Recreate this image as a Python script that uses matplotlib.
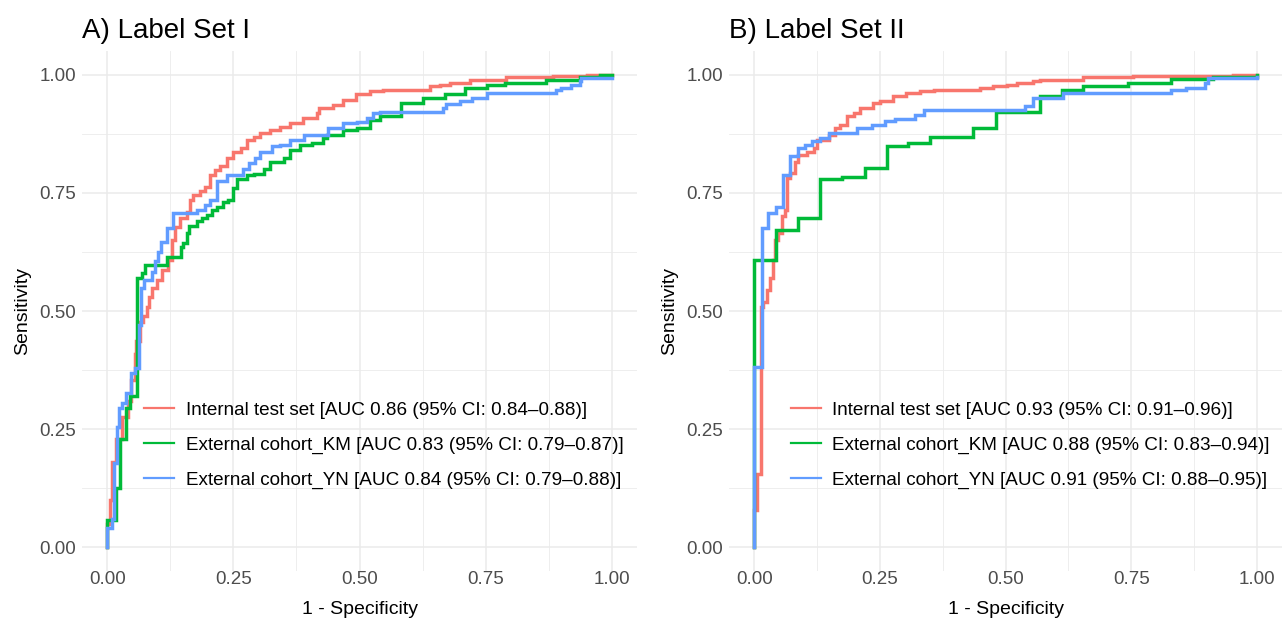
import matplotlib
matplotlib.use("Agg")
import matplotlib.pyplot as plt
from matplotlib.lines import Line2D
import numpy as np

plt.rcParams['font.family'] = ['Liberation Sans', 'DejaVu Sans']

# ---------------- data (step ROC vertices: fpr, tpr) ----------------
# Panel A: Label Set I
a_int_fpr = [0, 0, 0.005, 0.010, 0.018, 0.029, 0.042, 0.047, 0.055, 0.058, 0.065, 0.071, 0.079,
             0.082, 0.088, 0.098, 0.108, 0.121, 0.128, 0.134, 0.145, 0.158, 0.164, 0.170, 0.184,
             0.194, 0.204, 0.213, 0.224, 0.237, 0.250, 0.265, 0.277, 0.290, 0.302, 0.323, 0.343,
             0.362, 0.389, 0.415, 0.420, 0.448, 0.467, 0.494, 0.520, 0.546, 0.640, 0.660, 0.680,
             0.719, 0.790, 0.884, 0.950, 1.0]
a_int_tpr = [0, 0.05, 0.10, 0.18, 0.23, 0.276, 0.31, 0.354, 0.41, 0.437, 0.477, 0.49, 0.509,
             0.53, 0.548, 0.565, 0.587, 0.608, 0.65, 0.678, 0.696, 0.71, 0.735, 0.746, 0.753,
             0.763, 0.788, 0.799, 0.806, 0.824, 0.837, 0.844, 0.862, 0.869, 0.876, 0.883, 0.89,
             0.897, 0.908, 0.919, 0.929, 0.936, 0.947, 0.958, 0.965, 0.968, 0.975, 0.979, 0.982,
             0.989, 0.995, 0.998, 1.0, 1.0]

a_km_fpr = [0, 0, 0.017, 0.026, 0.037, 0.046, 0.059, 0.069, 0.075, 0.118, 0.147, 0.150, 0.158,
            0.162, 0.178, 0.187, 0.197, 0.207, 0.217, 0.230, 0.240, 0.250, 0.257, 0.277, 0.290,
            0.310, 0.323, 0.350, 0.362, 0.382, 0.405, 0.428, 0.435, 0.467, 0.495, 0.520, 0.540,
            0.583, 0.626, 0.670, 0.709, 0.752, 0.788, 0.870, 0.937, 0.976, 1.0]
a_km_tpr = [0, 0.057, 0.125, 0.23, 0.295, 0.32, 0.57, 0.58, 0.597, 0.615, 0.636, 0.644, 0.665,
            0.68, 0.69, 0.697, 0.704, 0.714, 0.72, 0.73, 0.735, 0.76, 0.78, 0.788, 0.79,
            0.80, 0.816, 0.823, 0.84, 0.851, 0.855, 0.866, 0.873, 0.883, 0.888, 0.905, 0.912,
            0.94, 0.95, 0.96, 0.972, 0.979, 0.982, 0.989, 0.996, 1.0, 1.0]

a_yn_fpr = [0, 0, 0.009, 0.0125, 0.019, 0.024, 0.030, 0.037, 0.048, 0.055, 0.062, 0.066, 0.072,
            0.088, 0.095, 0.101, 0.106, 0.118, 0.131, 0.178, 0.194, 0.204, 0.217, 0.237, 0.270,
            0.280, 0.293, 0.302, 0.326, 0.343, 0.362, 0.390, 0.438, 0.467, 0.495, 0.514, 0.527,
            0.540, 0.665, 0.672, 0.699, 0.722, 0.752, 0.890, 0.900, 0.920, 0.937, 0.940, 1.0]
a_yn_tpr = [0, 0.04, 0.06, 0.178, 0.255, 0.295, 0.305, 0.326, 0.368, 0.38, 0.47, 0.548, 0.565,
            0.583, 0.605, 0.625, 0.645, 0.675, 0.707, 0.714, 0.724, 0.735, 0.774, 0.788, 0.80,
            0.813, 0.823, 0.837, 0.848, 0.852, 0.862, 0.873, 0.887, 0.897, 0.90, 0.908, 0.919,
            0.922, 0.93, 0.937, 0.944, 0.95, 0.961, 0.968, 0.972, 0.979, 0.986, 0.993, 0.993]

# Panel B: Label Set II
b_int_fpr = [0, 0, 0.0066, 0.013, 0.017, 0.025, 0.032, 0.038, 0.042, 0.048, 0.055, 0.062, 0.065,
             0.072, 0.0815, 0.088, 0.105, 0.120, 0.125, 0.148, 0.161, 0.171, 0.184, 0.198, 0.211,
             0.237, 0.250, 0.277, 0.303, 0.330, 0.357, 0.449, 0.476, 0.502, 0.522, 0.555, 0.568,
             0.655, 0.754, 0.952, 1.0]
b_int_tpr = [0, 0.08, 0.156, 0.509, 0.52, 0.545, 0.569, 0.608, 0.65, 0.665, 0.70, 0.714, 0.781,
             0.792, 0.816, 0.83, 0.837, 0.844, 0.862, 0.873, 0.887, 0.894, 0.912, 0.919, 0.929,
             0.94, 0.944, 0.954, 0.961, 0.965, 0.968, 0.972, 0.975, 0.979, 0.982, 0.986, 0.989,
             0.994, 0.997, 1.0, 1.0]

b_km_fpr = [0, 0, 0.0437, 0.088, 0.131, 0.174, 0.221, 0.264, 0.307, 0.350, 0.436, 0.482, 0.569,
            0.612, 0.655, 0.744, 0.830, 0.913, 1.0]
b_km_tpr = [0, 0.608, 0.672, 0.696, 0.78, 0.783, 0.802, 0.85, 0.855, 0.869, 0.887, 0.92, 0.954,
            0.967, 0.975, 0.982, 0.991, 0.996, 1.0]

b_yn_fpr = [0, 0, 0.015, 0.0285, 0.044, 0.058, 0.072, 0.088, 0.101, 0.115, 0.131, 0.148, 0.204,
            0.234, 0.260, 0.281, 0.320, 0.337, 0.539, 0.555, 0.614, 0.830, 0.860, 0.897, 0.903, 1.0]
b_yn_tpr = [0, 0.382, 0.675, 0.707, 0.719, 0.788, 0.827, 0.845, 0.852, 0.859, 0.866, 0.876, 0.887,
            0.894, 0.901, 0.906, 0.915, 0.926, 0.933, 0.95, 0.961, 0.968, 0.972, 0.982, 0.993, 0.995]

series_names = ["Internal test set", "External cohort_KM", "External cohort_YN"]
colors = ["#F8766D", "#00BA38", "#619CFF"]
labels_a = ["Internal test set [AUC 0.86 (95% CI: 0.84\u20130.88)]",
            "External cohort_KM [AUC 0.83 (95% CI: 0.79\u20130.87)]",
            "External cohort_YN [AUC 0.84 (95% CI: 0.79\u20130.88)]"]
labels_b = ["Internal test set [AUC 0.93 (95% CI: 0.91\u20130.96)]",
            "External cohort_KM [AUC 0.88 (95% CI: 0.83\u20130.94)]",
            "External cohort_YN [AUC 0.91 (95% CI: 0.88\u20130.95)]"]
titles = ["A) Label Set I", "B) Label Set II"]
ticks = [0.0, 0.25, 0.5, 0.75, 1.0]
tick_labels = ["0.00", "0.25", "0.50", "0.75", "1.00"]

panels = [
    ([(a_int_fpr, a_int_tpr), (a_km_fpr, a_km_tpr), (a_yn_fpr, a_yn_tpr)], labels_a, titles[0]),
    ([(b_int_fpr, b_int_tpr), (b_km_fpr, b_km_tpr), (b_yn_fpr, b_yn_tpr)], labels_b, titles[1]),
]

W, H = 1282, 625
fig = plt.figure(figsize=(W / 100, H / 100), dpi=100)
rects = [[82 / W, 54 / H, 555 / W, 520 / H], [729 / W, 54 / H, 553 / W, 520 / H]]

for rect, (curves, labels, title) in zip(rects, panels):
    ax = fig.add_axes(rect)
    for (fx, ty), c in zip(curves, colors):
        ax.plot(fx, ty, drawstyle="steps-post", color=c, lw=2.5, solid_joinstyle="miter")
    ax.set_xlim(-0.05, 1.05)
    ax.set_ylim(-0.05, 1.05)
    ax.set_xticks(ticks)
    ax.set_xticklabels(tick_labels)
    ax.set_yticks(ticks)
    ax.set_yticklabels(tick_labels)
    ax.set_xticks([0.125, 0.375, 0.625, 0.875], minor=True)
    ax.set_yticks([0.125, 0.375, 0.625, 0.875], minor=True)
    ax.grid(which="major", color="#EBEBEB", lw=1.1)
    ax.grid(which="minor", color="#EBEBEB", lw=0.6)
    ax.set_axisbelow(True)
    for s in ax.spines.values():
        s.set_visible(False)
    ax.tick_params(which="both", length=0, labelsize=13.5, labelcolor="#4D4D4D")
    ax.tick_params(axis="x", pad=0)
    ax.tick_params(axis="y", pad=4)
    ax.set_xlabel("1 - Specificity", fontsize=14, labelpad=9)
    ax.set_ylabel("Sensitivity", fontsize=14, labelpad=6)
    ax.set_title(title, loc="left", fontsize=20, pad=9)
    handles = [Line2D([0], [0], color=c, lw=1.6) for c in colors]
    ax.legend(handles, labels, loc="center left", bbox_to_anchor=(0.112, 0.242),
              frameon=False, fontsize=13.6, handlelength=1.6, handletextpad=0.6,
              labelspacing=0.92, borderpad=0, borderaxespad=0)

fig.savefig("out.png", dpi=100)
